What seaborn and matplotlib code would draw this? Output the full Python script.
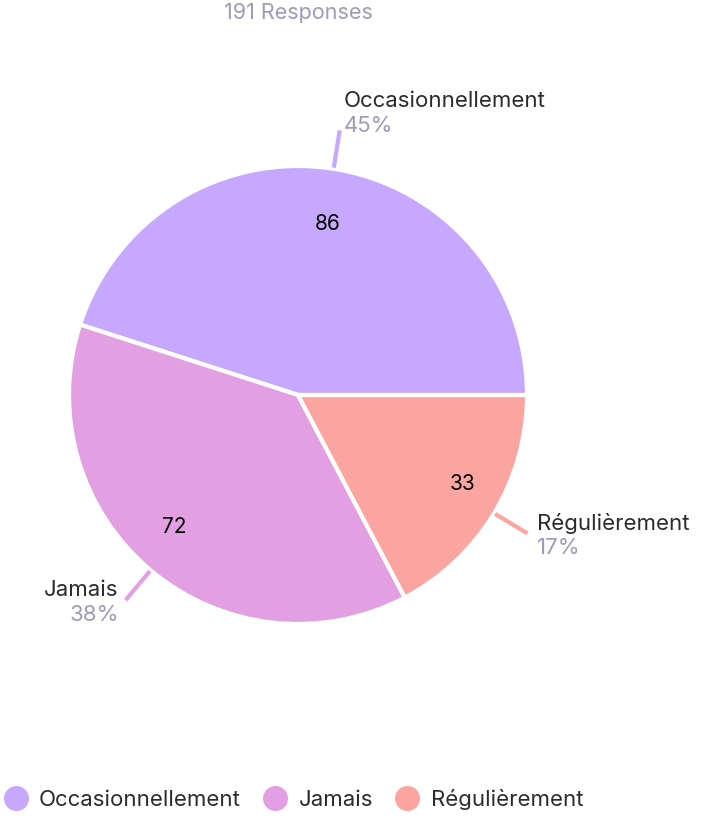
import numpy as np
import seaborn as sns
import matplotlib.pyplot as plt
from matplotlib.lines import Line2D

# Survey answers
categories = ['Occasionnellement', 'Jamais', 'Régulièrement']
counts = [86, 72, 33]
colors = ['#C7A8FF', '#E2A0E2', '#FBA5A0']
total = sum(counts)

sns.set_theme(style='white')
plt.rcParams['font.family'] = ['Inter', 'DejaVu Sans']

fig = plt.figure(figsize=(7.02, 8.16), dpi=100)
ax = fig.add_axes([0, 0, 1, 1])

cx, cy, r = 298, 421, 229
wedges, _ = ax.pie(counts, colors=colors, startangle=0, counterclock=True,
                   center=(cx, cy), radius=r, frame=True,
                   wedgeprops=dict(edgecolor='white', linewidth=3))
ax.set_xlim(0, 702)
ax.set_ylim(0, 816)
ax.axis('off')

gray = '#9C9CB8'
dark = '#2B2B2B'
for w, cat, n, col in zip(wedges, categories, counts, colors):
    ang = np.deg2rad((w.theta1 + w.theta2) / 2)
    ca, sa = np.cos(ang), np.sin(ang)
    # count inside the slice
    ax.text(cx + 0.78 * r * ca + 14 * ca, cy + 0.78 * r * sa - 6 * sa, str(n),
            ha='center', va='center', fontsize=15, color='black')
    # leader line
    x0, y0 = cx + 1.005 * r * ca, cy + 1.005 * r * sa
    x1, y1 = cx + 1.17 * r * ca, cy + 1.17 * r * sa
    ax.plot([x0, x1], [y0, y1], color=col, lw=3, solid_capstyle='butt')
    top = sa > 0.9
    if ca >= 0:
        tx, ha = x1 + (4 if top else 10), 'left'
    else:
        tx, ha = x1 - 7, 'right'
    shift = 19 if top else 0
    ax.text(tx, y1 + 10 + shift, cat, ha=ha, va='center', fontsize=16, color=dark)
    ax.text(tx, y1 - 15 + shift, f'{round(100 * n / total)}%', ha=ha,
            va='center', fontsize=16, color=gray)

ax.text(298, 803, f'{total} Responses', ha='center', va='center',
        fontsize=15.5, color=gray)

handles = [Line2D([], [], marker='o', linestyle='', markersize=17,
                  markerfacecolor=c, markeredgecolor=c) for c in colors]
fig.legend(handles, categories, loc='lower left', bbox_to_anchor=(-0.038, -0.017),
           ncol=3, frameon=False, fontsize=16, handletextpad=0.05,
           columnspacing=0.55, labelcolor=dark)

fig.savefig('out.png', dpi=100)
